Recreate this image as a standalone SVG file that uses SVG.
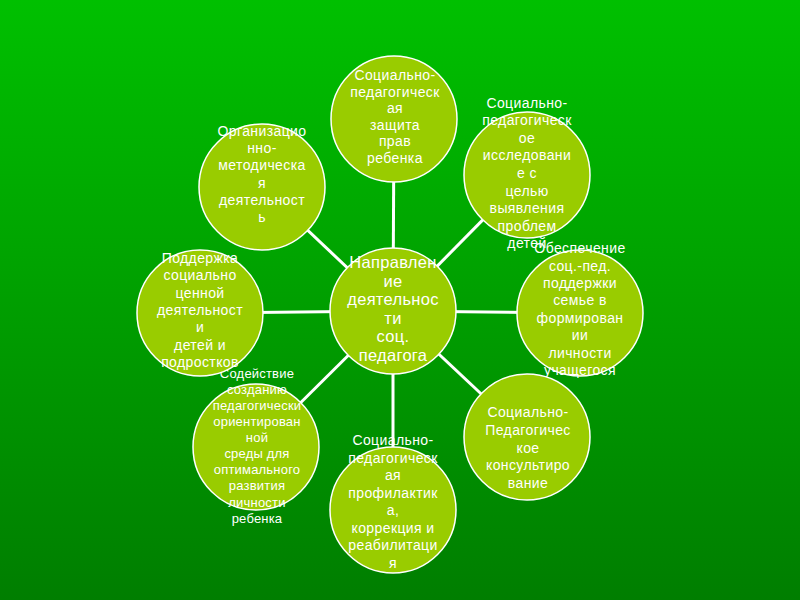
<svg xmlns="http://www.w3.org/2000/svg" width="800" height="600" viewBox="0 0 800 600">
<defs>
<linearGradient id="bg" x1="0" y1="0" x2="0" y2="1">
<stop offset="0" stop-color="#00c000"/>
<stop offset="1" stop-color="#007e00"/>
</linearGradient>
<style>
.c{fill:#99cc00;stroke:#ffffff;stroke-width:1.5}
.t{font-family:"Liberation Sans",Arial,sans-serif;font-size:14px;letter-spacing:0.4px;fill:#ffffff;text-anchor:middle}
.tc{font-size:16.5px;letter-spacing:0.3px}
.ts{font-size:13px;letter-spacing:0.2px}
.conn line{stroke:#ffffff;stroke-width:3}
</style>
</defs>
<rect width="800" height="600" fill="url(#bg)"/>
<g class="conn" id="connectors">
<line x1="393" y1="311" x2="394" y2="119"/>
<line x1="393" y1="311" x2="527" y2="175"/>
<line x1="393" y1="311" x2="580" y2="313"/>
<line x1="393" y1="311" x2="527" y2="437"/>
<line x1="393" y1="311" x2="393" y2="510"/>
<line x1="393" y1="311" x2="256" y2="447"/>
<line x1="393" y1="311" x2="200" y2="313"/>
<line x1="393" y1="311" x2="262" y2="187"/>
</g>
<g id="center">
<circle class="c" cx="393" cy="311" r="63"/>
<text class="t tc"><tspan x="393" y="268">Направлен</tspan><tspan x="393" y="287">ие</tspan><tspan x="393" y="305">деятельнос</tspan><tspan x="393" y="324">ти</tspan><tspan x="393" y="342">соц.</tspan><tspan x="393" y="361">педагога</tspan></text>
</g>
<g id="top">
<circle class="c" cx="394" cy="119" r="63"/>
<text class="t"><tspan x="395" y="80">Социально-</tspan><tspan x="395" y="97">педагогическ</tspan><tspan x="395" y="113">ая</tspan><tspan x="395" y="130">защита</tspan><tspan x="395" y="146">прав</tspan><tspan x="395" y="163">ребенка</tspan></text>
</g>
<g id="top-right">
<circle class="c" cx="527" cy="175" r="63"/>
<text class="t"><tspan x="527" y="108">Социально-</tspan><tspan x="527" y="125">педагогическ</tspan><tspan x="527" y="143">ое</tspan><tspan x="527" y="160">исследовани</tspan><tspan x="527" y="178">е с</tspan><tspan x="527" y="196">целью</tspan><tspan x="527" y="213">выявления</tspan><tspan x="527" y="231">проблем</tspan><tspan x="527" y="248">детей</tspan></text>
</g>
<g id="right">
<circle class="c" cx="580" cy="313" r="63"/>
<text class="t"><tspan x="580" y="253">Обеспечение</tspan><tspan x="580" y="271">соц.-пед.</tspan><tspan x="580" y="288">поддержки</tspan><tspan x="580" y="305">семье в</tspan><tspan x="580" y="323">формирован</tspan><tspan x="580" y="340">ии</tspan><tspan x="580" y="358">личности</tspan><tspan x="580" y="375">учащегося</tspan></text>
</g>
<g id="bottom-right">
<circle class="c" cx="527" cy="437" r="63"/>
<text class="t"><tspan x="528" y="417">Социально-</tspan><tspan x="528" y="435">Педагогичес</tspan><tspan x="528" y="453">кое</tspan><tspan x="528" y="470">консультиро</tspan><tspan x="528" y="488">вание</tspan></text>
</g>
<g id="bottom">
<circle class="c" cx="393" cy="510" r="63"/>
<text class="t"><tspan x="393" y="445">Социально-</tspan><tspan x="393" y="463">педагогическ</tspan><tspan x="393" y="480">ая</tspan><tspan x="393" y="498">профилактик</tspan><tspan x="393" y="515">а,</tspan><tspan x="393" y="533">коррекция и</tspan><tspan x="393" y="550">реабилитаци</tspan><tspan x="393" y="568">я</tspan></text>
</g>
<g id="bottom-left">
<circle class="c" cx="256" cy="447" r="63"/>
<text class="t ts"><tspan x="257" y="378">Содействие</tspan><tspan x="257" y="394">созданию</tspan><tspan x="257" y="410">педагогически</tspan><tspan x="257" y="426">ориентирован</tspan><tspan x="257" y="442">ной</tspan><tspan x="257" y="458">среды для</tspan><tspan x="257" y="474">оптимального</tspan><tspan x="257" y="490">развития</tspan><tspan x="257" y="507">личности</tspan><tspan x="257" y="523">ребенка</tspan></text>
</g>
<g id="left">
<circle class="c" cx="200" cy="313" r="63"/>
<text class="t"><tspan x="200" y="263">Поддержка</tspan><tspan x="200" y="280">социально</tspan><tspan x="200" y="298">ценной</tspan><tspan x="200" y="315">деятельност</tspan><tspan x="200" y="332">и</tspan><tspan x="200" y="350">детей и</tspan><tspan x="200" y="367">подростков</tspan></text>
</g>
<g id="top-left">
<circle class="c" cx="262" cy="187" r="63"/>
<text class="t"><tspan x="262" y="136">Организацио</tspan><tspan x="262" y="153">нно-</tspan><tspan x="262" y="170">методическа</tspan><tspan x="262" y="188">я</tspan><tspan x="262" y="205">деятельност</tspan><tspan x="262" y="222">ь</tspan></text>
</g>
</svg>
